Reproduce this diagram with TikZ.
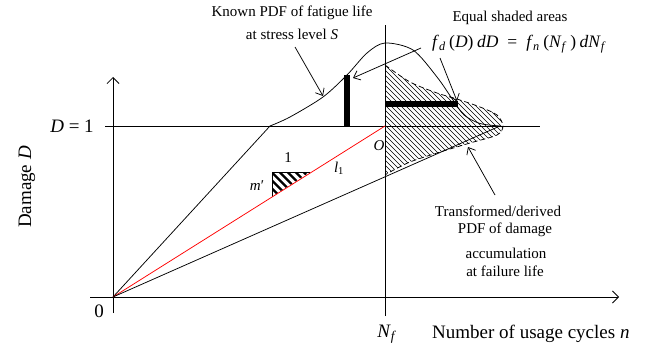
\documentclass[tikz,border=0pt]{standalone}
\usepackage{fontspec}
\setmainfont{Liberation Serif}
\usetikzlibrary{arrows.meta}
\newcommand{\vi}[1]{\textit{#1}}
\newcommand{\vsub}[1]{\textsubscript{#1}}
\newcommand{\gs}{\hspace{3.5pt}}
\begin{document}
\begin{tikzpicture}[x=1pt,y=-1pt,
  axis/.style={line width=0.8pt},
  thinline/.style={line width=0.75pt},
  axtip/.style={-{Straight Barb[length=6pt,width=12pt,line width=0.8pt]}},
  annarrow/.style={line width=0.75pt,-{Straight Barb[length=6pt,width=10pt,line width=0.75pt]}},
  barline/.style={line width=6pt},
  ann/.style={font=\fontsize{15}{17}\selectfont, inner sep=0pt},
  axlbl/.style={font=\fontsize{19}{21}\selectfont, inner sep=0pt},
]
\useasboundingbox (0,0) rectangle (664,353);
% coordinates
\coordinate (O) at (113,297);
\coordinate (xs) at (90,297);  \coordinate (xe) at (619,297);
\coordinate (ys) at (113,313); \coordinate (ye) at (113,77);
\coordinate (d1s) at (105,126); \coordinate (d1e) at (540,126);
\coordinate (nfs) at (385,316); \coordinate (nfe) at (385,25);
\coordinate (A) at (270,126); \coordinate (B) at (385,126); \coordinate (C) at (500,126);
\coordinate (T1) at (272.5,172); \coordinate (T2) at (310,172); \coordinate (T3) at (272.5,196.5);

% fine hatching of the derived PDF region
\begin{scope}
  \clip plot[smooth] coordinates {(385,65) (410,82) (437,93) (457,99) (480,107) (497,115) (503,126) (497,135) (470,143) (437,153) (410,162) (390,172) (385,175)} -- cycle;
  \foreach \k in {-160,-155,...,200} \draw[line width=0.45pt] (385+\k,40) -- ++(160,160);
\end{scope}
% thick hatching of slope triangle
\begin{scope}
  \clip (T1) -- (T2) -- (T3) -- cycle;
  \foreach \k in {-40,-32,...,40} \draw[line width=2.4pt] (272.5+\k,165) -- ++(40,40);
\end{scope}
\draw[thinline] (T2) -- (T1) -- (T3);

% axes
\draw[axis, axtip] (xs) -- (xe);
\draw[axis, axtip] (ys) -- (ye);
\draw[thinline] (d1s) -- (d1e);
\draw[thinline] (nfs) -- (nfe);

% lines from origin
\draw[thinline] (O) -- (A);
\draw[thinline, red] (O) -- (B);
\draw[thinline] (O) -- (C);

% known PDF of fatigue life
\draw[thinline] plot[smooth] coordinates {(270,126) (290,117) (323,97) (347,75) (367,53) (385,43) (413,50) (437,77) (453,100) (464,115) (480,123.5) (500,126)};
% derived PDF (dashed)
\draw[thinline, dash pattern=on 5pt off 3pt] plot[smooth] coordinates {(385,65) (410,82) (437,93) (457,99) (480,107) (497,115) (503,126) (497,135) (470,143) (437,153) (410,162) (390,172) (385,175)};

% thick bars
\coordinate (vb1) at (347,126); \coordinate (vb2) at (347,75);
\coordinate (hb1) at (385,104); \coordinate (hb2) at (458,104);
\draw[barline] (vb1) -- (vb2);
\draw[barline] (hb1) -- (hb2);

% labels
\node[ann] (known1) at (292,13) {Known PDF of fatigue life};
\node[ann] (known2) at (292,34) {at stress level \vi{S}};
\node[ann] (eq1) at (510,18) {Equal shaded areas};
\node[ann, anchor=west, font=\fontsize{17.5}{19}\selectfont] (eq2) at (432,44) {\vi{f}\vsub{\vi{d}}\gs(\vi{D})\gs\vi{dD}\hspace{9pt}=\hspace{9pt}\vi{f}\vsub{\vi{n}}\gs(\vi{N}\vsub{\vi{f}}\gs)\gs\vi{dN}\vsub{\vi{f}}};
\node[ann] (tr1) at (498,211) {Transformed/derived};
\node[ann] (tr2) at (505,230) {PDF of damage};
\node[ann] (tr3) at (506,253) {accumulation};
\node[ann] (tr4) at (505,271) {at failure life};
\node[ann] (olbl) at (379,146) {\vi{O}};
\node[ann] (one) at (288,158) {1};
\node[ann] (mp) at (257,186) {\vi{m}′};
\node[ann] (l1) at (339,168) {\vi{l}\vsub{1}};

\node[axlbl] (d1lbl) at (72,126) {\vi{D} = 1};
\node[axlbl, rotate=90] (dmg) at (27,187) {Damage \vi{D}};
\node[axlbl] (zero) at (99,311) {0};
\node[axlbl] (nf) at (387,334) {\vi{N}\vsub{\vi{f}}};
\node[axlbl, anchor=west] (ncyc) at (432,334) {Number of usage cycles \vi{n}};

% annotation arrows
\coordinate (a1s) at (295,47);  \coordinate (a1e) at (323,96);
\coordinate (a2s) at (421,48);  \coordinate (a2e) at (353,78);
\coordinate (a3s) at (440,58);  \coordinate (a3e) at (457,101);
\coordinate (a4s) at (495,195); \coordinate (a4e) at (468,147);
\draw[annarrow] (a1s) -- (a1e);
\draw[annarrow] (a2s) -- (a2e);
\draw[annarrow] (a3s) -- (a3e);
\draw[annarrow] (a4s) -- (a4e);
\end{tikzpicture}
\end{document}
